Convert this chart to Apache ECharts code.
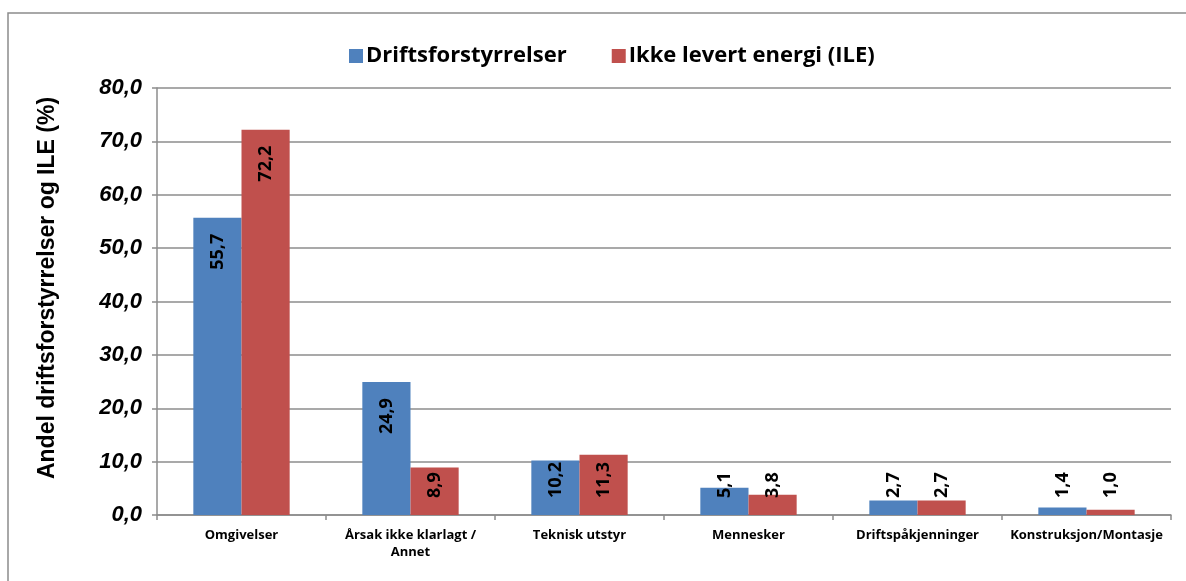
<!DOCTYPE html>
<html>
<head>
<meta charset="utf-8">
<script src="https://cdn.jsdelivr.net/npm/echarts@6/dist/echarts.min.js"></script>
<style>
  html, body { margin: 0; padding: 0; background: #fff; }
  #chart { width: 1186px; height: 581px; }
</style>
</head>
<body>
<div id="chart"></div>
<script>
// Cause categories and shares (%) of outages and energy not supplied
const categories = [
  'Omgivelser',
  'Årsak ikke klarlagt /\nAnnet',
  'Teknisk utstyr',
  'Mennesker',
  'Driftspåkjenninger',
  'Konstruksjon/Montasje'
];
const driftsforstyrrelser = [55.7, 24.9, 10.2, 5.1, 2.7, 1.4];
const ile = [72.2, 8.9, 11.3, 3.8, 2.7, 1.0];
const seriesNames = ['Driftsforstyrrelser', 'Ikke levert energi (ILE)'];
const yTicks = [0, 10, 20, 30, 40, 50, 60, 70, 80];

const BLUE = '#4F81BD';
const RED = '#C0504D';
const GRID_GREY = '#8C8C8C';
const SANS = '"Open Sans", "Noto Sans", sans-serif';

// Comma as decimal separator, one decimal
const fmt = v => v.toFixed(1).replace('.', ',');

// Tall bars carry the value inside the top end; short bars get it stacked above the base
const LABEL_INSIDE_MIN = 15;
function labelled(values) {
  return values.map(v => ({
    value: v,
    label: v >= LABEL_INSIDE_MIN
      ? { position: 'insideTop', distance: 16, align: 'right', verticalAlign: 'middle' }
      : { position: 'insideBottom', distance: 17, align: 'left', verticalAlign: 'middle' }
  }));
}

const barLabel = {
  show: true,
  rotate: 90,
  formatter: p => fmt(p.value),
  fontFamily: SANS,
  fontWeight: 'bold',
  fontSize: 18,
  color: '#000'
};

const chart = echarts.init(document.getElementById('chart'), null, { renderer: 'canvas' });

chart.setOption({
  animation: false,
  backgroundColor: '#fff',
  graphic: [
    {
      type: 'rect',
      shape: { x: 8, y: 13, width: 1250, height: 650 },
      style: { fill: 'none', stroke: GRID_GREY, lineWidth: 1.5 },
      silent: true
    },
    {
      type: 'text',
      x: 48,
      y: 288,
      rotation: Math.PI / 2,
      style: {
        text: 'Andel driftsforstyrrelser og ILE (%)',
        fontFamily: 'Liberation Sans',
        fontWeight: 'bold',
        fontSize: 23,
        fill: '#000',
        align: 'center',
        verticalAlign: 'middle'
      },
      silent: true
    }
  ],
  legend: {
    left: 344,
    top: 40,
    itemWidth: 14,
    itemHeight: 14,
    itemGap: 45,
    icon: 'rect',
    textStyle: {
      fontFamily: SANS,
      fontWeight: 'bold',
      fontSize: 22,
      color: '#000',
      padding: [0, 0, 0, -2]
    },
    data: seriesNames
  },
  grid: { left: 157, right: 15, top: 88, bottom: 66, containLabel: false },
  xAxis: {
    type: 'category',
    data: categories,
    boundaryGap: true,
    axisLine: { show: true, lineStyle: { color: GRID_GREY, width: 1.5 } },
    axisTick: { show: true, alignWithLabel: false, length: 5, lineStyle: { color: GRID_GREY, width: 1.5 } },
    axisLabel: {
      interval: 0,
      margin: 12,
      fontFamily: SANS,
      fontWeight: 'bold',
      fontSize: 13,
      lineHeight: 17,
      color: '#000'
    }
  },
  yAxis: {
    type: 'value',
    min: yTicks[0],
    max: yTicks[yTicks.length - 1],
    interval: yTicks[1] - yTicks[0],
    axisLine: { show: true, lineStyle: { color: GRID_GREY, width: 1.5 } },
    axisTick: { show: true, length: 5, lineStyle: { color: GRID_GREY, width: 1.5 } },
    splitLine: { show: true, lineStyle: { color: GRID_GREY, width: 1.5 } },
    axisLabel: {
      margin: 15,
      formatter: v => fmt(v),
      fontFamily: 'Liberation Sans',
      fontWeight: 'bold',
      fontStyle: 'italic',
      fontSize: 22,
      color: '#000'
    }
  },
  series: [
    {
      name: seriesNames[0],
      type: 'bar',
      data: labelled(driftsforstyrrelser),
      itemStyle: { color: BLUE },
      label: barLabel,
      barGap: '0%',
      barCategoryGap: '43%'
    },
    {
      name: seriesNames[1],
      type: 'bar',
      data: labelled(ile),
      itemStyle: { color: RED },
      label: barLabel,
      barGap: '0%',
      barCategoryGap: '43%'
    }
  ]
});
</script>
</body>
</html>
